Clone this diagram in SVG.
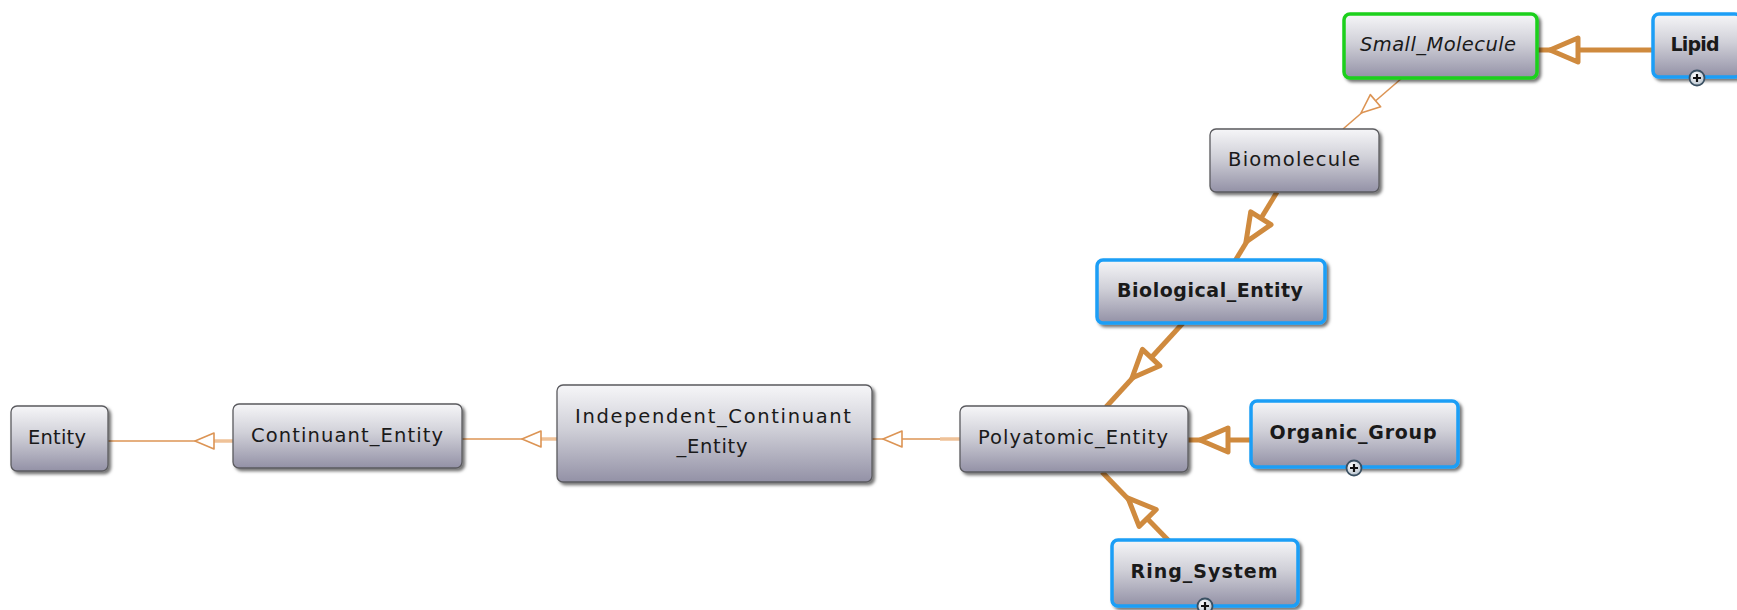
<svg xmlns="http://www.w3.org/2000/svg" xmlns:xlink="http://www.w3.org/1999/xlink" width="1737" height="610" viewBox="0 0 1737 610">
  <defs>
    <linearGradient id="nodeFill" x1="0" y1="0" x2="0" y2="1">
      <stop offset="0" stop-color="#f6f6f8"/>
      <stop offset="0.45" stop-color="#d0d0d8"/>
      <stop offset="1" stop-color="#9391a6"/>
    </linearGradient>
    <radialGradient id="knobFill" cx="0.4" cy="0.35" r="0.7">
      <stop offset="0" stop-color="#ffffff"/>
      <stop offset="1" stop-color="#b4c0cc"/>
    </radialGradient>
    <filter id="shadow" x="-10%" y="-10%" width="130%" height="140%">
      <feDropShadow dx="2.5" dy="2.5" stdDeviation="1.4" flood-color="#000" flood-opacity="0.55"/>
    </filter>
    <!-- hollow arrowheads, apex at the origin pointing along +x -->
    <path id="headThick" d="M0,0 L-28,-12 L-28,12 Z" fill="#fff" stroke="#cf8a3e" stroke-width="5" stroke-linejoin="round"/>
    <path id="headThin" d="M0,0 L-19,-8 L-19,8 Z" fill="#fff" stroke="#dc9454" stroke-width="1.6" stroke-linejoin="round"/>
    <!-- expand button at the bottom edge of collapsed nodes -->
    <g id="expander">
      <circle r="7.5" fill="url(#knobFill)" stroke="#3a5062" stroke-width="1.8"/>
      <path d="M-4,0 H4 M0,-4 V4" stroke="#111" stroke-width="2.2"/>
    </g>
    <style>
      .box { fill: url(#nodeFill); stroke: #5a5a5e; stroke-width: 1.3; filter: url(#shadow); }
      .box.sel { stroke: #1a9ef6; stroke-width: 3.5; }
      .box.focus { stroke: #1bd01b; stroke-width: 3.5; }
      .label { font-family: "DejaVu Sans", Verdana, sans-serif; font-size: 19.5px; fill: #1a1a1a; text-anchor: middle; }
      .label.b { font-weight: bold; font-size: 19px; }
      .label.i { font-style: italic; }
      .thick { stroke: #cf8a3e; stroke-width: 5; fill: none; }
      .thin { stroke: #dc9454; stroke-width: 1.6; fill: none; }
      .thinTail { stroke: #efc298; stroke-width: 3.5; fill: none; }
    </style>
  </defs>

  <g id="connectors">
    <!-- Lipid -> Small_Molecule -->
    <path class="thick" d="M1653,50 L1537,50"/>
    <use xlink:href="#headThick" transform="translate(1550,50) rotate(180)"/>
    <!-- Small_Molecule -> Biomolecule -->
    <path class="thin" d="M1402,78 L1343,129"/>
    <use xlink:href="#headThin" transform="translate(1361,113) rotate(139.7)"/>
    <!-- Biomolecule -> Biological_Entity -->
    <path class="thick" d="M1277,192 L1235,261"/>
    <use xlink:href="#headThick" transform="translate(1246,242) rotate(122.1)"/>
    <!-- Biological_Entity -> Polyatomic_Entity -->
    <path class="thick" d="M1183,323 L1106,407"/>
    <use xlink:href="#headThick" transform="translate(1132,378) rotate(133.2)"/>
    <!-- Organic_Group -> Polyatomic_Entity -->
    <path class="thick" d="M1251,440 L1188,440"/>
    <use xlink:href="#headThick" transform="translate(1200,440) rotate(180)"/>
    <!-- Ring_System -> Polyatomic_Entity -->
    <path class="thick" d="M1169,541 L1102,472"/>
    <use xlink:href="#headThick" transform="translate(1128,498) rotate(-134.6)"/>
    <!-- Polyatomic_Entity -> Independent_Continuant_Entity -->
    <path class="thinTail" d="M960,439 L940,439"/>
    <path class="thin" d="M940,439 L872,439"/>
    <use xlink:href="#headThin" transform="translate(883,439) rotate(180)"/>
    <!-- Independent_Continuant_Entity -> Continuant_Entity -->
    <path class="thinTail" d="M557,439 L541,439"/>
    <path class="thin" d="M541,439 L462,439"/>
    <use xlink:href="#headThin" transform="translate(522,439) rotate(180)"/>
    <!-- Continuant_Entity -> Entity -->
    <path class="thinTail" d="M233,441 L214,441"/>
    <path class="thin" d="M214,441 L108,441"/>
    <use xlink:href="#headThin" transform="translate(195,441) rotate(180)"/>
  </g>

  <g id="node-entity">
    <rect class="box" x="11" y="406" width="97" height="65" rx="6"/>
    <text class="label" x="57" y="444" textLength="58" lengthAdjust="spacing">Entity</text>
  </g>

  <g id="node-continuant-entity">
    <rect class="box" x="233" y="404" width="229" height="64" rx="6"/>
    <text class="label" x="347" y="442" textLength="192" lengthAdjust="spacing">Continuant_Entity</text>
  </g>

  <g id="node-independent-continuant-entity">
    <rect class="box" x="557" y="385" width="315" height="97" rx="6"/>
    <text class="label" x="713" y="423" textLength="276" lengthAdjust="spacing">Independent_Continuant</text>
    <text class="label" x="712" y="453" textLength="71" lengthAdjust="spacing">_Entity</text>
  </g>

  <g id="node-polyatomic-entity">
    <rect class="box" x="960" y="406" width="228" height="66" rx="6"/>
    <text class="label" x="1073" y="444" textLength="190" lengthAdjust="spacing">Polyatomic_Entity</text>
  </g>

  <g id="node-organic-group">
    <rect class="box sel" x="1251" y="401" width="207" height="66" rx="6"/>
    <text class="label b" x="1353" y="439" textLength="167" lengthAdjust="spacing">Organic_Group</text>
    <use xlink:href="#expander" x="1354" y="468"/>
  </g>

  <g id="node-ring-system">
    <rect class="box sel" x="1112" y="540" width="186" height="66" rx="6"/>
    <text class="label b" x="1204" y="578" textLength="147" lengthAdjust="spacing">Ring_System</text>
    <use xlink:href="#expander" x="1205" y="606"/>
  </g>

  <g id="node-biological-entity">
    <rect class="box sel" x="1097" y="260" width="228" height="63" rx="6"/>
    <text class="label b" x="1210" y="297" textLength="186" lengthAdjust="spacing">Biological_Entity</text>
  </g>

  <g id="node-biomolecule">
    <rect class="box" x="1210" y="129" width="169" height="63" rx="6"/>
    <text class="label" x="1294" y="166" textLength="132" lengthAdjust="spacing">Biomolecule</text>
  </g>

  <g id="node-small-molecule">
    <rect class="box focus" x="1344" y="14" width="193" height="64" rx="6"/>
    <text class="label i" x="1438" y="51" textLength="156" lengthAdjust="spacing">Small_Molecule</text>
  </g>

  <g id="node-lipid">
    <rect class="box sel" x="1653" y="14" width="88" height="63" rx="6"/>
    <text class="label b" x="1695" y="51" textLength="49" lengthAdjust="spacing">Lipid</text>
    <use xlink:href="#expander" x="1697" y="78"/>
  </g>
</svg>
